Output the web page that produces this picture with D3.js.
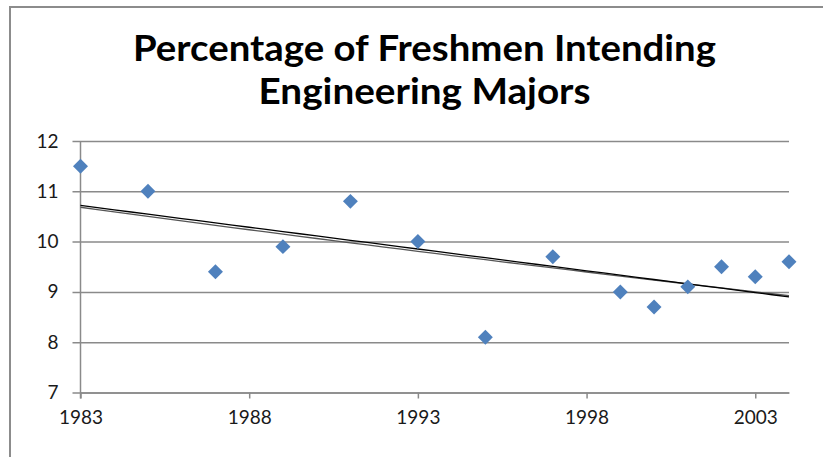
<!DOCTYPE html>
<html>
<head>
<meta charset="utf-8">
<script src="https://cdn.jsdelivr.net/npm/d3@7"></script>
<style>
  body { margin: 0; background: #fff; }
  svg { display: block; }
  .tick text { font-family: Lato, "Open Sans", sans-serif; font-size: 19px; fill: #1a1a1a; }
</style>
</head>
<body>
<div id="container"></div>
<script>
const years = [1983, 1985, 1987, 1989, 1991, 1993, 1995, 1997, 1999, 2000, 2001, 2002, 2003, 2004];
const percents = [11.5, 11.0, 9.4, 9.9, 10.8, 10.0, 8.1, 9.7, 9.0, 8.7, 9.1, 9.5, 9.3, 9.6];
const xTicks = [1983, 1988, 1993, 1998, 2003];
const yTicks = [7, 8, 9, 10, 11, 12];
const titleLines = ['Percentage of Freshmen Intending', 'Engineering Majors'];

const W = 823, H = 457;
const margin = { top: 141, left: 80.5, bottom: 64.5, right: 34 };
const width = W - margin.left - margin.right;
const height = H - margin.top - margin.bottom;
const gridColor = '#8a8a8a';

const data = years.map((y, i) => ({ x: y, y: percents[i] }));

const svg = d3
  .select('#container')
  .append('svg')
  .attr('width', W)
  .attr('height', H);

// chart frame (only top + left visible in the crop)
svg.append('path')
  .attr('d', 'M10,' + H + 'V7H' + W)
  .attr('fill', 'none')
  .attr('stroke', '#8c8c8c')
  .attr('stroke-width', 2);

// title
svg.append('g')
  .selectAll('text')
  .data(titleLines)
  .enter()
  .append('text')
  .attr('x', 424.5)
  .attr('y', (d, i) => 61 + i * 43)
  .attr('text-anchor', 'middle')
  .attr('font-family', 'Lato, "Open Sans", sans-serif')
  .attr('font-weight', 'bold')
  .attr('font-size', 36)
  .attr('fill', '#000')
  .attr('textLength', (d, i) => (i === 0 ? 583 : 332))
  .attr('lengthAdjust', 'spacingAndGlyphs')
  .text(d => d);

const g = svg.append('g')
  .attr('transform', 'translate(' + margin.left + ',' + margin.top + ')');

const xScale = d3.scaleLinear().domain([1983, 2004]).range([0, width]);
const yScale = d3.scaleLinear().domain([7, 12]).range([height, 0]);

// horizontal gridlines + y axis
const yAxis = d3.axisLeft(yScale)
  .tickValues(yTicks)
  .tickSizeInner(-width - 8)
  .tickSizeOuter(0)
  .tickPadding(14)
  .tickFormat(d3.format('d'));
const yAxisSvg = g.append('g')
  .attr('class', 'axis y-axis')
  .attr('transform', 'translate(-8,0)')
  .call(yAxis);
yAxisSvg.select('.domain').remove();
yAxisSvg.selectAll('.tick line')
  .attr('stroke', gridColor)
  .attr('stroke-width', 1.5);

// vertical axis line
g.append('line')
  .attr('x1', 0).attr('x2', 0)
  .attr('y1', 0).attr('y2', height + 6)
  .attr('stroke', gridColor)
  .attr('stroke-width', 1.5);

const xAxis = d3.axisBottom(xScale)
  .tickValues(xTicks)
  .tickSizeInner(6)
  .tickSizeOuter(0)
  .tickPadding(12)
  .tickFormat(d3.format('d'));
const xAxisSvg = g.append('g')
  .attr('class', 'axis x-axis')
  .attr('transform', 'translate(0,' + height + ')')
  .call(xAxis);
xAxisSvg.select('.domain').attr('stroke', gridColor).attr('stroke-width', 1.5);
xAxisSvg.selectAll('.tick line').attr('stroke', gridColor).attr('stroke-width', 1.5);

// trendlines (linear and exponential least-squares fits)
const n = data.length;
const mx = d3.mean(data, d => d.x);
const my = d3.mean(data, d => d.y);
const slope = d3.sum(data, d => (d.x - mx) * (d.y - my)) / d3.sum(data, d => (d.x - mx) ** 2);
const icept = my - slope * mx;

const mly = d3.mean(data, d => Math.log(d.y));
const eb = d3.sum(data, d => (d.x - mx) * (Math.log(d.y) - mly)) / d3.sum(data, d => (d.x - mx) ** 2);
const ea = mly - eb * mx;

const xs = d3.range(1983, 2004.01, 0.5);
const line = d3.line().x(d => xScale(d[0])).y(d => yScale(d[1]));

g.append('path')
  .datum(xs.map(x => [x, Math.exp(ea + eb * x)]))
  .attr('d', line)
  .attr('fill', 'none')
  .attr('stroke', '#555')
  .attr('stroke-width', 1.3);

g.append('path')
  .datum(xs.map(x => [x, icept + slope * x]))
  .attr('d', line)
  .attr('fill', 'none')
  .attr('stroke', '#000')
  .attr('stroke-width', 1.3);

// points
const diamond = d3.symbol().type(d3.symbolSquare).size(112);
g.append('g')
  .selectAll('path')
  .data(data)
  .enter()
  .append('path')
  .attr('transform', d => 'translate(' + xScale(d.x) + ',' + yScale(d.y) + ') rotate(45)')
  .attr('d', diamond)
  .attr('fill', '#4f81bd');
</script>
</body>
</html>
